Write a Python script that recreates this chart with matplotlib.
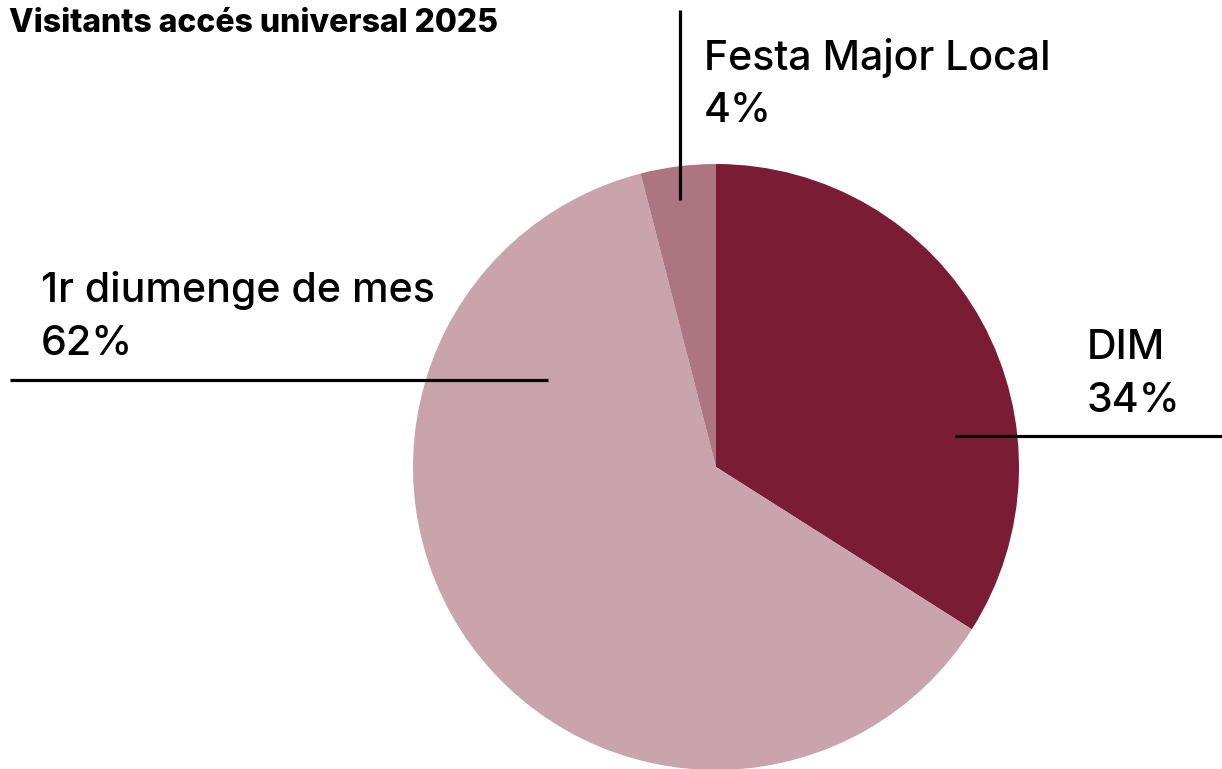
import matplotlib.pyplot as plt

# data
labels = ['DIM', '1r diumenge de mes', 'Festa Major Local']
values = [34, 62, 4]
colors = ['#7a1c35', '#c9a4ac', '#ad7581']

W, H = 1222, 769

fig = plt.figure(figsize=(W / 100, H / 100), dpi=100)
ax = fig.add_axes([0, 0, 1, 1])

# pie centred at (716, 467) in pixel coords, y measured from top
ax.pie(values, colors=colors, startangle=90, counterclock=False,
       center=(716, H - 467), radius=303, frame=True,
       wedgeprops=dict(linewidth=0))
ax.set_xlim(0, W)
ax.set_ylim(0, H)
ax.set_aspect('equal')
ax.axis('off')

lw = 2.3
# leader lines
ax.plot([955, W], [H - 436, H - 436], color='black', lw=lw, solid_capstyle='butt')
ax.plot([10, 548], [H - 380, H - 380], color='black', lw=lw, solid_capstyle='butt')
ax.plot([680, 680], [H - 200, H - 10], color='black', lw=lw, solid_capstyle='butt')

font = ['Inter', 'DejaVu Sans']
fs = 29.6
label_pos = [(1087, 348), (41, 291), (704, 58)]
for lab, v, (x, y) in zip(labels, values, label_pos):
    ax.text(x, H - y, lab, fontsize=fs, family=font, fontweight='medium',
            va='center', ha='left')
    ax.text(x, H - y - 53, f'{v}%', fontsize=fs, family=font, fontweight='medium',
            va='center', ha='left')

fig.text(9 / W, 1 - 24 / H, 'Visitants accés universal 2025', fontsize=23,
         family=font, fontweight='heavy', va='center', ha='left')

fig.savefig('out.png', dpi=100)
